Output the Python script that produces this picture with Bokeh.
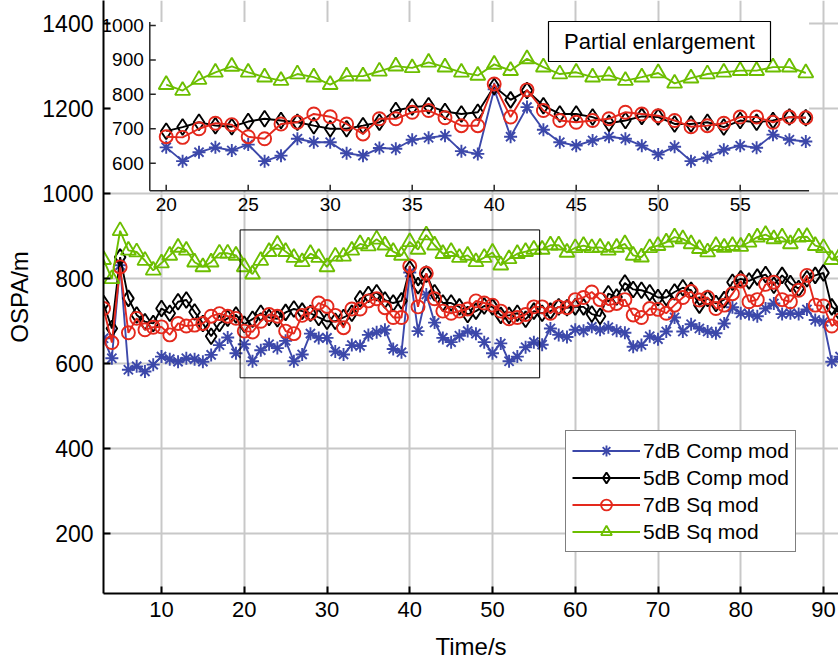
import math
from bokeh.plotting import figure
from bokeh.models import Range1d, Legend, LegendItem
from bokeh.embed import file_html
from bokeh.resources import INLINE
from bokeh.core.properties import value

# ---------------- data ----------------
time_s = list(range(3, 93))

comp_7db = [660, 613, 832, 586, 594, 582, 598, 617, 611, 605,
            613, 611, 605, 621, 644, 662, 625, 646, 606, 632,
            646, 637, 654, 606, 622, 671, 661, 661, 629, 622,
            644, 642, 668, 674, 680, 635, 627, 815, 677, 763,
            697, 661, 651, 666, 677, 671, 651, 625, 648, 606,
            617, 639, 651, 645, 683, 668, 663, 680, 678, 687,
            680, 686, 678, 673, 640, 644, 665, 658, 676, 709,
            676, 693, 683, 676, 672, 695, 733, 719, 717, 712,
            730, 742, 717, 719, 717, 728, 703, 699, 605, 617]

comp_5db = [742, 683, 851, 754, 715, 699, 695, 730, 719, 746,
            750, 722, 695, 665, 695, 707, 715, 693, 705, 719,
            709, 706, 721, 729, 724, 719, 709, 700, 700, 709,
            719, 753, 763, 767, 750, 743, 748, 823, 784, 811,
            767, 743, 743, 734, 716, 724, 736, 734, 714, 714,
            719, 705, 724, 719, 724, 734, 732, 734, 734, 717,
            712, 765, 757, 790, 775, 773, 767, 756, 756, 769,
            779, 773, 738, 754, 742, 751, 792, 800, 795, 804,
            810, 785, 808, 789, 777, 800, 808, 814, 734, 719]

sq_7db = [730, 650, 828, 673, 707, 680, 686, 687, 668, 695,
          689, 691, 695, 712, 718, 712, 707, 677, 675, 700,
          716, 712, 677, 671, 714, 719, 743, 735, 714, 685,
          729, 729, 748, 753, 732, 709, 709, 830, 734, 813,
          753, 724, 719, 724, 729, 748, 743, 738, 724, 706,
          709, 716, 734, 734, 719, 734, 732, 751, 756, 769,
          751, 738, 742, 751, 715, 709, 730, 728, 719, 738,
          756, 770, 750, 756, 730, 738, 765, 795, 746, 751,
          787, 792, 751, 746, 773, 808, 738, 736, 689, 703]

sq_5db = [845, 800, 913, 867, 863, 843, 820, 837, 855, 874,
          867, 839, 828, 839, 860, 860, 855, 828, 811, 843,
          864, 881, 864, 850, 840, 859, 850, 828, 853, 853,
          867, 882, 877, 893, 879, 864, 855, 887, 869, 903,
          879, 859, 864, 850, 855, 840, 850, 862, 832, 847,
          859, 864, 869, 869, 879, 879, 862, 873, 878, 873,
          874, 867, 874, 882, 855, 851, 873, 878, 886, 898,
          894, 882, 871, 863, 878, 874, 878, 876, 886, 898,
          904, 894, 898, 882, 898, 899, 878, 873, 845, 855]

series_names = ["7dB Comp mod", "5dB Comp mod", "7dB Sq mod", "5dB Sq mod"]
series_values = [comp_7db, comp_5db, sq_7db, sq_5db]

x_ticks = [10, 20, 30, 40, 50, 60, 70, 80, 90]
y_ticks = [200, 400, 600, 800, 1000, 1200, 1400]
inset_x_ticks = [20, 25, 30, 35, 40, 45, 50, 55]
inset_y_ticks = [600, 700, 800, 900, 1000]
inset_time = (20, 59)
inset_title = "Partial enlargement"

# ---------------- styles / layout ----------------
colors = ["#3C48AA", "#000000", "#E4291D", "#6CBE00"]
markers = ["asterisk", "diamond", "circle", "triangle"]
msizes = [13, 16, 13, 15]
FONT = "Liberation Sans"
LW = 1.9

W, H = 838, 662
FRAME_L, FRAME_B = 103, 593          # frame right edge = W, top edge = 0
MX = (10, 161.0, 90, 823.0)          # value, pixel calibration of main x
MY = (200, 533.3, 1400, 23.3)        # value, pixel calibration of main y
IX = (20, 165.7, 55, 739.7)          # inset x calibration
IY = (600, 162.7, 1000, 25.0)        # inset y calibration
INSET_XLIM = (19, 59.2)
INSET_YLIM = (520, 1010)
INSET_BG_LEFT_PX = 110
ZOOM_BOX = (19.5, 55.7, 567, 915)    # left, right, bottom, top (main coords)
TITLE_BOX_PX = (548, 770, 21, 61)    # left, right, top, bottom
LEGEND_LEFT_PX, LEGEND_BOTTOM_PX = 565, 552


def lin(cal, px):
    v0, p0, v1, p1 = cal
    return v0 + (px - p0) * (v1 - v0) / (p1 - p0)


p = figure(width=W, height=H, title=None,
           x_range=Range1d(lin(MX, FRAME_L), lin(MX, W)),
           y_range=Range1d(lin(MY, FRAME_B), lin(MY, 0)),
           min_border_left=FRAME_L, min_border_right=0,
           min_border_top=0, min_border_bottom=H - FRAME_B,
           output_backend="svg", toolbar_location=None)
p.extra_x_ranges = {"ix": Range1d(lin(IX, FRAME_L), lin(IX, W))}
p.extra_y_ranges = {"iy": Range1d(lin(IY, FRAME_B), lin(IY, 0))}

p.outline_line_color = None
p.background_fill_color = "white"
p.border_fill_color = "white"

for ax in (p.xaxis, p.yaxis):
    ax.axis_line_width = 2
    ax.axis_line_color = "black"
    ax.major_tick_in = 7
    ax.major_tick_out = 0
    ax.major_tick_line_width = 2
    ax.minor_tick_line_color = None
    ax.major_label_text_font = FONT
    ax.major_label_text_color = "black"
    ax.axis_label_text_font = FONT
    ax.axis_label_text_font_style = "normal"
    ax.axis_label_text_color = "black"

p.xaxis.ticker = x_ticks
p.yaxis.ticker = y_ticks
p.xaxis.major_label_text_font_size = "22px"
p.yaxis.major_label_text_font_size = "23px"
p.xaxis.axis_label = "Time/s"
p.yaxis.axis_label = "OSPA/m"
p.xaxis.axis_label_text_font_size = "24px"
p.yaxis.axis_label_text_font_size = "24px"
p.xaxis.major_label_standoff = 8
p.yaxis.major_label_standoff = 10
p.xaxis.axis_label_standoff = 13
p.yaxis.axis_label_standoff = 6

p.xgrid.grid_line_color = "#c8c8c8"
p.ygrid.grid_line_color = "#c8c8c8"
p.xgrid.grid_line_width = 2
p.ygrid.grid_line_width = 2

# ---------------- main series ----------------
items = []
for name, vals, c, m, s in zip(series_names, series_values, colors, markers, msizes):
    lr = p.line(time_s, vals, line_color=c, line_width=LW)
    mr = p.scatter(time_s, vals, marker=m, size=s, line_color=c,
                   fill_color=None, line_width=LW)
    items.append(LegendItem(label=name, renderers=[lr, mr]))

# zoom rectangle
p.quad(left=[ZOOM_BOX[0]], right=[ZOOM_BOX[1]], bottom=[ZOOM_BOX[2]], top=[ZOOM_BOX[3]],
       fill_color=None, line_color="black", line_width=1)

# ---------------- inset ----------------
IR = dict(x_range_name="ix", y_range_name="iy")
p.quad(left=[lin(IX, INSET_BG_LEFT_PX)], right=[INSET_XLIM[1]],
       bottom=[INSET_YLIM[0]], top=[INSET_YLIM[1]],
       fill_color="white", line_color=None, **IR)

sel = [i for i, t in enumerate(time_s) if inset_time[0] <= t <= inset_time[1]]
it = [time_s[i] for i in sel]
for vals, c, m, s in zip(series_values, colors, markers, msizes):
    iv = [vals[i] for i in sel]
    p.line(it, iv, line_color=c, line_width=LW, **IR)
    p.scatter(it, iv, marker=m, size=s, line_color=c, fill_color=None,
              line_width=LW, **IR)

# inset spines
p.segment(x0=[INSET_XLIM[0], INSET_XLIM[0]], y0=[INSET_YLIM[0], INSET_YLIM[0]],
          x1=[INSET_XLIM[0], INSET_XLIM[1]], y1=[INSET_YLIM[1], INSET_YLIM[0]],
          line_color="#262626", line_width=1.5, **IR)
# inset ticks
p.ray(x=[INSET_XLIM[0]] * len(inset_y_ticks), y=inset_y_ticks, length=6,
      angle=0, length_units="screen", line_color="#262626", line_width=1.5, **IR)
p.ray(x=inset_x_ticks, y=[INSET_YLIM[0]] * len(inset_x_ticks), length=6,
      angle=math.pi / 2, length_units="screen", line_color="#262626",
      line_width=1.5, **IR)
# inset tick labels
p.text(x=[INSET_XLIM[0]] * len(inset_y_ticks), y=inset_y_ticks,
       text=[str(v) for v in inset_y_ticks], x_offset=-6,
       text_align="right", text_baseline="middle", text_color="black",
       text_font=value(FONT), text_font_size="19px", **IR)
p.text(x=inset_x_ticks, y=[INSET_YLIM[0]] * len(inset_x_ticks),
       text=[str(v) for v in inset_x_ticks], y_offset=7,
       text_align="center", text_baseline="top", text_color="black",
       text_font=value(FONT), text_font_size="19px", **IR)

# inset title box
bl, br, bt, bb = TITLE_BOX_PX
p.quad(left=[lin(IX, bl)], right=[lin(IX, br)], top=[lin(IY, bt)], bottom=[lin(IY, bb)],
       fill_color="white", line_color="black", line_width=1.2, **IR)
p.text(x=[lin(IX, (bl + br) / 2)], y=[lin(IY, (bt + bb) / 2)], text=[inset_title],
       text_align="center", text_baseline="middle", text_color="black",
       text_font=value(FONT), text_font_size="22px", **IR)

# ---------------- legend ----------------
legend = Legend(items=items,
                location=(LEGEND_LEFT_PX - FRAME_L, FRAME_B - LEGEND_BOTTOM_PX))
legend.label_text_font = FONT
legend.label_text_font_size = "21px"
legend.label_text_color = "black"
legend.glyph_width = 68
legend.glyph_height = 27
legend.label_height = 27
legend.label_standoff = 3
legend.padding = 6
legend.spacing = 0
legend.border_line_color = "black"
legend.border_line_width = 1.5
legend.background_fill_color = "white"
legend.background_fill_alpha = 1.0
p.add_layout(legend)

open("out.html", "w").write(file_html(p, INLINE))
